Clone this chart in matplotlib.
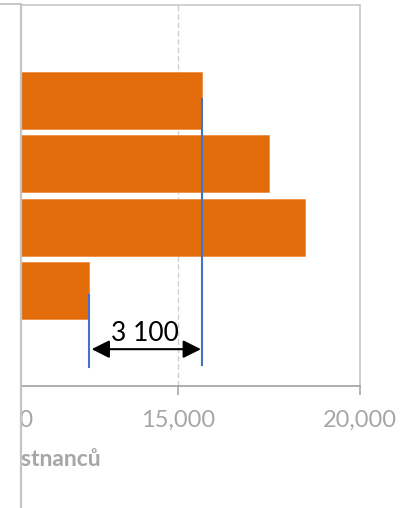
import matplotlib.pyplot as plt
from matplotlib.patches import Rectangle
from matplotlib.lines import Line2D
from matplotlib.ticker import StrMethodFormatter

plt.rcParams['font.family'] = ['Lato', 'DejaVu Sans']

# ── Data ──────────────────────────────────────────────────────
rows   = [1, 2, 3, 4]                      # category slots (0 and 5 stay empty)
values = [15650, 17500, 18500, 12550]      # počet zaměstnanců
x_ticks = [10000, 15000, 20000]
axis_title = "Počet zaměstnanců"

# the measured gap between the last and the first bar
i_hi, i_lo = 0, 3
gap = values[i_hi] - values[i_lo]
gap_label = f"{gap:,}".replace(",", " ")

# ── Colours ───────────────────────────────────────────────────
orange = "#E36C0A"
blue   = "#4472C4"
frame  = "#C4C4C4"
axis_c = "#A0A0A0"
text_c = "#A6A6A6"

W, H = 420, 508
fig = plt.figure(figsize=(W / 100, H / 100), dpi=100)
ax = fig.add_axes([-4 / W, 122 / H, 364 / W, 381 / H])

ax.barh(rows, values, height=0.9, color=orange, edgecolor="#EE8E45",
        linewidth=0.6, zorder=3)

ax.set_xlim(x_ticks[0], x_ticks[-1])
ax.set_ylim(5.5, -0.5)
ax.set_xticks(x_ticks)
ax.xaxis.set_major_formatter(StrMethodFormatter("{x:,.0f}"))
ax.set_yticks([])
ax.tick_params(axis="x", length=6.5, width=1.1, color=axis_c,
               labelcolor=text_c, labelsize=17, pad=11)
ax.grid(axis="x", color="#D0D0D0", linestyle=(0, (4, 2)), linewidth=1, zorder=0)

ax.spines["left"].set_visible(False)
for s in ("top", "right"):
    ax.spines[s].set_color(frame)
    ax.spines[s].set_linewidth(1.1)
ax.spines["bottom"].set_color(axis_c)
ax.spines["bottom"].set_linewidth(1.2)

# ── Dimension line between the two bar ends ───────────────────
x_hi, x_lo = values[i_hi], values[i_lo]
ax.plot([x_hi, x_hi], [rows[i_hi] - 0.02, 5.17], color=blue, lw=1.5, zorder=4)
ax.plot([x_lo, x_lo], [rows[i_lo] + 0.07, 5.2], color=blue, lw=1.5, zorder=4)
ax.annotate("", xy=(x_hi, 4.92), xytext=(x_lo, 4.92),
            arrowprops=dict(arrowstyle="<|-|>,head_length=0.6,head_width=0.3",
                            mutation_scale=18, color="black", lw=1.5,
                            shrinkA=2, shrinkB=0.5),
            zorder=5)
ax.text((x_hi + x_lo) / 2, 4.67, gap_label, ha="center", va="center",
        fontsize=19, color="black", zorder=5)

# ── Axis title ────────────────────────────────────────────────
fig.text(101 / W, (H - 466) / H, axis_title, ha="right", va="baseline",
         fontsize=16.5, fontweight="bold", color=text_c)

# ── Neighbouring panel on the left edge ───────────────────────
fig.add_artist(Rectangle((0, 0), 20.5 / W, (H - 3.5) / H, transform=fig.transFigure,
                         facecolor="white", edgecolor="none", zorder=10))
fig.add_artist(Line2D([0, 20.5 / W], [(H - 3.5) / H] * 2, transform=fig.transFigure,
                      color=frame, lw=1.3, zorder=11))
fig.add_artist(Line2D([20.5 / W] * 2, [0, (H - 3.5) / H], transform=fig.transFigure,
                      color=frame, lw=1.6, zorder=11))

fig.savefig("out.png", dpi=100)
